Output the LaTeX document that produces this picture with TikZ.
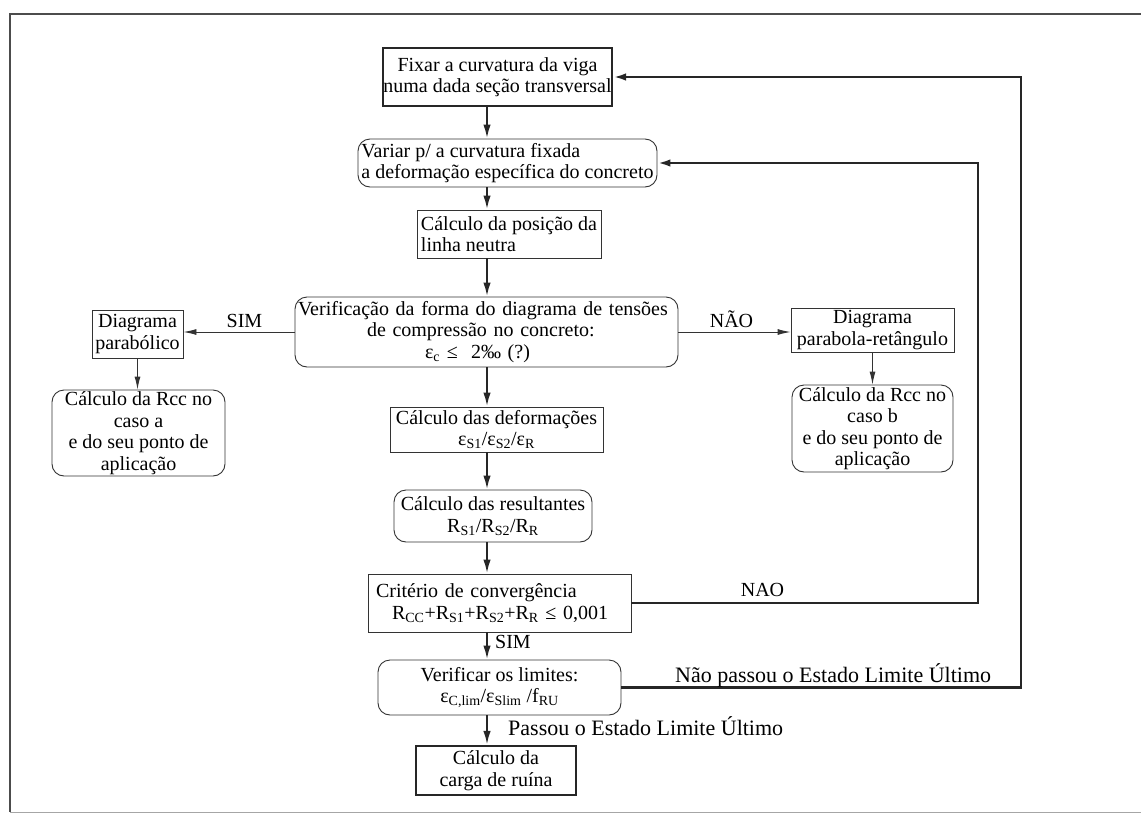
\documentclass[tikz,border=0pt]{standalone}
\usepackage{fontspec}
\setmainfont{Liberation Serif}
\usetikzlibrary{arrows.meta}
\newcommand\sbs[1]{\textsubscript{#1}}

\begin{document}
\begin{tikzpicture}[x=1pt,y=-1pt,
  every node/.style={font=\fontsize{20}{21.5}\selectfont, text=black, inner sep=0pt},
  sq/.style={draw=black!80, line width=0.9pt},
  sqthick/.style={draw=black!85, line width=2.2pt},
  rnd/.style={draw=black!80, line width=0.9pt, rounded corners=12pt},
  flow/.style={draw=black!85, line width=2.2pt, -{Latex[length=14pt,width=7.5pt]}},
  thinflow/.style={draw=black!80, line width=0.9pt, -{Latex[length=13pt,width=6pt]}},
  loopback/.style={draw=black!85, line width=2.8pt, -{Latex[length=13pt,width=7.5pt]}},
  lbl/.style={anchor=base},
  biglbl/.style={anchor=base west, font=\fontsize{22}{24}\selectfont},
]
\useasboundingbox (0,0) rectangle (1141,814);

% outer frame
\draw[black!70, line width=2.5pt] (1145,14) -- (10,14) -- (10,812);
\draw[black!35, line width=0.8pt] (10,812) -- (1145,812);

% main column
\node[sqthick, minimum width=229pt, minimum height=58pt, align=center] (b1) at (497.5,77)
  {Fixar a curvatura da viga\\numa dada seção transversal};
\node[rnd, minimum width=299pt, minimum height=48pt, align=left] (b2) at (507.5,163)
  {Variar p/ a curvatura fixada\\a deformação específica do concreto};
\node[sq, minimum width=184pt, minimum height=48pt, align=left] (b3) at (509,234)
  {Cálculo da posição da\\linha neutra};
\node[rnd, minimum width=383pt, minimum height=70pt, text width=377pt, align=left] (b4) at (486.5,332)
  {Verificação da forma do diagrama de tensões\\\hspace*{69pt}de compressão no concreto:\\\hspace*{127pt}ε\sbs{c} ≤\ \ 2‰ (?)};
\node[sq, minimum width=213pt, minimum height=45pt, align=center] (b5) at (496.5,429.5)
  {Cálculo das deformações\\ε\sbs{S1}/ε\sbs{S2}/ε\sbs{R}};
\node[rnd, minimum width=198pt, minimum height=52pt, align=center] (b6) at (493,516)
  {Cálculo das resultantes\\R\sbs{S1}/R\sbs{S2}/R\sbs{R}};
\node[sq, minimum width=263pt, minimum height=58pt, text width=247pt, align=left] (b7) at (499.5,603)
  {Critério de convergência\\\hspace*{16pt}R\sbs{CC}+R\sbs{S1}+R\sbs{S2}+R\sbs{R} ≤ 0,001};
\node[rnd, minimum width=243pt, minimum height=55pt, align=center] (b8) at (499.5,687.5)
  {Verificar os limites:\\ε\sbs{C,lim}/ε\sbs{Slim} /f\sbs{RU}};
\node[sqthick, minimum width=160pt, minimum height=49pt, align=center] (b9) at (496,770.5)
  {Cálculo da\\carga de ruína};

% side branches
\node[sq, minimum width=91pt, minimum height=48pt, align=center] (dp) at (137.5,334)
  {Diagrama\\parabólico};
\node[rnd, minimum width=173pt, minimum height=86pt, align=center] (ra) at (138.5,433)
  {Cálculo da Rcc no\\caso a\\e do seu ponto de\\aplicação};
\node[sq, minimum width=163pt, minimum height=44pt, align=center] (dr) at (872.5,330)
  {Diagrama\\parabola-retângulo};
\node[rnd, minimum width=161pt, minimum height=87pt, align=center] (rb) at (872.5,428.5)
  {Cálculo da Rcc no\\caso b\\e do seu ponto de\\aplicação};

% connector columns
\coordinate (cx) at (487,0);
\coordinate (ri) at (978,0);
\coordinate (ro) at (1021,0);

\draw[flow] (b1.south -| cx) -- (b2.north -| cx);
\draw[flow] (b2.south -| cx) -- (b3.north -| cx);
\draw[flow] (b3.south -| cx) -- (b4.north -| cx);
\draw[flow] (b4.south -| cx) -- (b5.north -| cx);
\draw[flow] (b5.south -| cx) -- (b6.north -| cx);
\draw[flow] (b6.south -| cx) -- (b7.north -| cx);
\draw[flow] (b7.south -| cx) -- (b8.north -| cx);
\draw[flow] (b8.south -| cx) -- (b9.north -| cx);

\draw[thinflow] (b4.west) -- (b4.west -| dp.east);
\draw[thinflow] (dp.south) -- (dp.south |- ra.north);
\draw[thinflow] (b4.east) -- (b4.east -| dr.west);
\draw[thinflow] (dr.south) -- (dr.south |- rb.north);

\draw[loopback] (b7.east) -- (b7.east -| ri) -- (b2.east -| ri) -- (b2.east);
\draw[loopback] (b8.east) -- (b8.east -| ro) -- (b1.east -| ro) -- (b1.east);

% labels
\node[lbl] (lsim) at (244.5,327) {SIM};
\node[lbl] (lnao) at (731.5,327) {NÃO};
\node[lbl] (lnao2) at (762.5,596) {NAO};
\node[anchor=base west] (lsim2) at (495,648) {SIM};
\node[biglbl] (lfail) at (675,682) {Não passou o Estado Limite Último};
\node[biglbl] (lpass) at (508,735) {Passou o Estado Limite Último};
\end{tikzpicture}
\end{document}
